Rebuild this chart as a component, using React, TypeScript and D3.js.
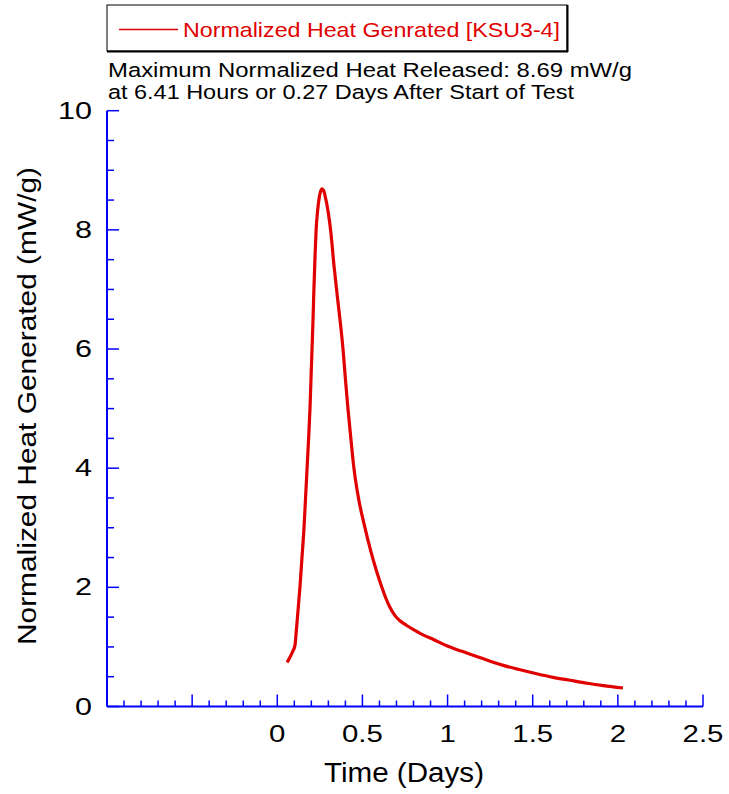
import React from "react";
import * as d3 from "d3";

const timeDays = [0.058, 0.075, 0.09, 0.104, 0.112, 0.12, 0.133, 0.145, 0.157, 0.166, 0.175, 0.184, 0.192, 0.198, 0.204, 0.21, 0.215, 0.221, 0.228, 0.238, 0.25, 0.262, 0.272, 0.28, 0.3, 0.315, 0.333, 0.35, 0.368, 0.386, 0.4, 0.415, 0.432, 0.45, 0.48, 0.515, 0.55, 0.58, 0.614, 0.64, 0.662, 0.69, 0.72, 0.76, 0.8, 0.85, 0.92, 0.995, 1.08, 1.171, 1.25, 1.327, 1.42, 1.523, 1.62, 1.719, 1.82, 1.915, 2.03];
const heat = [0.74, 0.83, 0.92, 1.03, 1.28, 1.55, 2.0, 2.5, 3.0, 3.5, 4.0, 4.5, 5.0, 5.5, 6.0, 6.5, 7.0, 7.5, 8.0, 8.35, 8.6, 8.69, 8.66, 8.58, 8.28, 7.95, 7.4, 6.95, 6.5, 6.0, 5.5, 5.0, 4.5, 4.0, 3.45, 3.0, 2.6, 2.3, 2.0, 1.8, 1.66, 1.53, 1.44, 1.36, 1.29, 1.21, 1.12, 1.02, 0.93, 0.84, 0.76, 0.69, 0.62, 0.55, 0.49, 0.44, 0.39, 0.35, 0.31];

const xTickLabels = [0, 0.5, 1, 1.5, 2, 2.5];
const yTickLabels = [0, 2, 4, 6, 8, 10];
const legendLabel = "Normalized Heat Genrated [KSU3-4]";
const noteLine1 = "Maximum Normalized Heat Released: 8.69 mW/g";
const noteLine2 = "at 6.41 Hours or 0.27 Days After Start of Test";
const xTitle = "Time (Days)";
const yTitle = "Normalized Heat Generated (mW/g)";

const FONT = "'Liberation Sans', Arial, Helvetica, sans-serif";
const AXIS = "#0000ff";
const RED = "#e00000";

export default function App() {
  const x = d3.scaleLinear().domain([-1, 2.5]).range([107, 703]);
  const y = d3.scaleLinear().domain([0, 10]).range([706.5, 110.7]);
  const line = d3
    .line<number>()
    .x((_, i) => x(timeDays[i]))
    .y((d) => y(d))
    .curve(d3.curveMonotoneX);

  const xMinor = d3.range(-10, 26).map((i) => i / 10);
  const yMinor = d3.range(0, 21).map((i) => i / 2);

  return (
    <svg width={729} height={794} style={{ position: "absolute", left: 0, top: 0 }} fontFamily={FONT}>
      <rect width={729} height={794} fill="#fff" />
      {/* legend box */}
      <rect x={107} y={5} width={460} height={46} fill="#fff" stroke="#000" strokeWidth={1} />
      <line x1={567.5} y1={5} x2={567.5} y2={52} stroke="#000" strokeWidth={2} />
      <line x1={107} y1={51.5} x2={568} y2={51.5} stroke="#000" strokeWidth={2} />
      <line x1={119} x2={178} y1={29.5} y2={29.5} stroke={RED} strokeWidth={1.5} />
      <text x={183} y={37} fontSize={21} fill={RED} textLength={377} lengthAdjust="spacingAndGlyphs">
        {legendLabel}
      </text>
      <text x={108} y={77} fontSize={20.5} fill="#000" textLength={524} lengthAdjust="spacingAndGlyphs">
        {noteLine1}
      </text>
      <text x={108} y={98.5} fontSize={20.5} fill="#000" textLength={466} lengthAdjust="spacingAndGlyphs">
        {noteLine2}
      </text>

      {/* axes */}
      <line x1={x(-1)} x2={x(2.5)} y1={y(0)} y2={y(0)} stroke={AXIS} strokeWidth={2} />
      <line x1={x(-1)} x2={x(-1)} y1={y(0)} y2={y(10)} stroke={AXIS} strokeWidth={2} />
      {xMinor.map((v, i) => {
        const major = Math.round(v * 10) % 5 === 0;
        return (
          <line key={"xt" + i} x1={x(v)} x2={x(v)} y1={y(0)} y2={y(0) - (major ? 12 : 6)} stroke={AXIS} strokeWidth={1.5} />
        );
      })}
      {yMinor.map((v, i) => {
        const major = Math.round(v * 2) % 4 === 0;
        return (
          <line key={"yt" + i} x1={x(-1)} x2={x(-1) + (major ? 12 : 7)} y1={y(v)} y2={y(v)} stroke={AXIS} strokeWidth={1.5} />
        );
      })}
      {xTickLabels.map((v) => (
        <text key={"xl" + v} transform={`translate(${x(v)},742) scale(1.25,1)`} textAnchor="middle" fontSize={23.5} fill="#000">
          {String(v)}
        </text>
      ))}
      {yTickLabels.map((v) => (
        <text key={"yl" + v} transform={`translate(92,${y(v) + 8}) scale(1.3,1)`} textAnchor="end" fontSize={23.5} fill="#000">
          {String(v)}
        </text>
      ))}
      <text x={404} y={782} textAnchor="middle" fontSize={27} fill="#000" textLength={160} lengthAdjust="spacingAndGlyphs">
        {xTitle}
      </text>
      <text
        transform={`translate(36,406) rotate(-90)`}
        textAnchor="middle"
        fontSize={26.5}
        fill="#000"
        textLength={478}
        lengthAdjust="spacingAndGlyphs"
      >
        {yTitle}
      </text>

      <path d={line(heat) || ""} fill="none" stroke={RED} strokeWidth={3.2} strokeLinejoin="round" />
    </svg>
  );
}
